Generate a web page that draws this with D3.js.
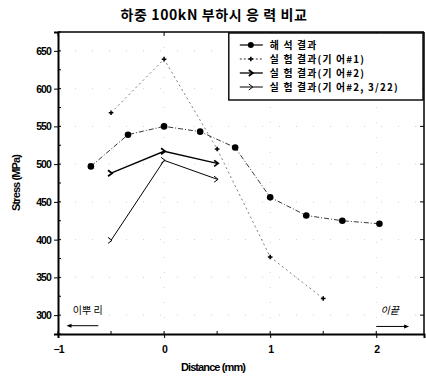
<!DOCTYPE html>
<html>
<head>
<meta charset="utf-8">
<script src="https://cdn.jsdelivr.net/npm/d3@7"></script>
<style>
  body { margin: 0; background: #fff; }
  svg { font-family: "Liberation Sans", "Noto Sans CJK KR", sans-serif; }
</style>
</head>
<body>
<svg id="chart" width="426" height="380"></svg>
<script>
// chart data
const analysisX = [-0.69, -0.34, 0, 0.34, 0.67, 1.0, 1.34, 1.68, 2.03];
const analysisY = [497, 539, 550, 543, 522, 456, 432, 425, 421];
const gear1X = [-0.5, 0, 0.5, 1.0, 1.5];
const gear1Y = [568, 639, 520, 377, 322];
const gear2X = [-0.5, 0, 0.5];
const gear2Y = [488, 517, 501];
const gear2bX = [-0.5, 0, 0.5];
const gear2bY = [399, 505, 480];
const seriesNames = ["해 석 결과", "실 험 결과(기 어#1)", "실 험 결과(기 어#2)", "실 험 결과(기 어#2, 3/22)"];
const xTicks = [-1, 0, 1, 2];
const yTicks = [300, 350, 400, 450, 500, 550, 600, 650];

const margin = { left: 58, right: 2, top: 32, bottom: 46 };
const width = 426, height = 380;
const chartW = width - margin.left - margin.right;
const chartH = height - margin.top - margin.bottom;

const xScale = d3.scaleLinear().domain([-1, 2.45]).range([0, chartW]);
const yScale = d3.scaleLinear().domain([275, 675]).range([chartH, 0]);

const svg = d3.select("#chart");
const g = svg.append("g").attr("transform", `translate(${margin.left}, ${margin.top})`);

// faint dotted grid
g.append("g").selectAll("line").data(xTicks.slice(1))
  .enter().append("line")
  .attr("x1", d => xScale(d)).attr("x2", d => xScale(d))
  .attr("y1", 0).attr("y2", chartH)
  .style("stroke", "#bbb").style("stroke-width", 0.7).style("stroke-dasharray", "1 14");
g.append("g").selectAll("line").data(yTicks)
  .enter().append("line")
  .attr("x1", 0).attr("x2", chartW)
  .attr("y1", d => yScale(d)).attr("y2", d => yScale(d))
  .style("stroke", "#bbb").style("stroke-width", 0.7).style("stroke-dasharray", "1 16");

// axes
const minorY = d3.range(275, 676, 25);
const minorX = d3.range(-1, 2.5, 0.5);

const xAxis = g.append("g").attr("transform", `translate(0, ${chartH})`)
  .call(d3.axisBottom(xScale).tickValues(xTicks).tickFormat(d3.format("d")).tickSize(4));
const yAxis = g.append("g")
  .call(d3.axisLeft(yScale).tickValues(yTicks).tickSize(4));

[xAxis, yAxis].forEach(a => {
  a.select(".domain").style("stroke-width", 2);
  a.selectAll("text").style("font-size", "10.5px").style("font-weight", "bold").style("letter-spacing", "-0.9px");
});
xAxis.selectAll("text").attr("dy", "1.1em");

// minor ticks
g.append("g").selectAll("line").data(minorY).enter().append("line")
  .attr("x1", 0).attr("x2", 3).attr("y1", d => yScale(d)).attr("y2", d => yScale(d))
  .style("stroke", "#000");
g.append("g").selectAll("line").data(minorX).enter().append("line")
  .attr("x1", d => xScale(d)).attr("x2", d => xScale(d)).attr("y1", chartH).attr("y2", chartH - 3)
  .style("stroke", "#000");

// top and right frame with inward ticks
g.append("line").attr("x1", 0).attr("x2", chartW).attr("y1", 0).attr("y2", 0)
  .style("stroke", "#000").style("stroke-width", 1.5);
g.append("line").attr("x1", chartW).attr("x2", chartW).attr("y1", 0).attr("y2", chartH)
  .style("stroke", "#000").style("stroke-width", 1.5);
g.append("g").selectAll("line").data(yTicks).enter().append("line")
  .attr("x1", chartW).attr("x2", chartW - 4).attr("y1", d => yScale(d)).attr("y2", d => yScale(d))
  .style("stroke", "#000");
g.append("g").selectAll("line").data(xTicks).enter().append("line")
  .attr("x1", d => xScale(d)).attr("x2", d => xScale(d)).attr("y1", 0).attr("y2", 4)
  .style("stroke", "#000");

const line = d3.line().x(d => xScale(d[0])).y(d => yScale(d[1]));
const zip = (xs, ys) => xs.map((x, i) => [x, ys[i]]);

// analysis series: dash-dot with filled dots
const s1 = zip(analysisX, analysisY);
g.append("path").attr("d", line(s1))
  .style("fill", "none").style("stroke", "#222").style("stroke-width", 0.9)
  .style("stroke-dasharray", "5 2 1 2");
g.selectAll(".dot").data(s1).enter().append("circle")
  .attr("cx", d => xScale(d[0])).attr("cy", d => yScale(d[1])).attr("r", 3.3)
  .style("fill", "#000");

// gear #1: thin dotted with plus markers
const s2 = zip(gear1X, gear1Y);
g.append("path").attr("d", line(s2))
  .style("fill", "none").style("stroke", "#444").style("stroke-width", 0.7)
  .style("stroke-dasharray", "2 3");
g.selectAll(".plus").data(s2).enter().append("path")
  .attr("transform", d => `translate(${xScale(d[0])}, ${yScale(d[1])})`)
  .attr("d", d3.symbol().type(d3.symbolCross).size(12))
  .style("fill", "#000");

// gear #2: solid with bold arrow markers
const s3 = zip(gear2X, gear2Y);
g.append("path").attr("d", line(s3))
  .style("fill", "none").style("stroke", "#000").style("stroke-width", 1.3);
g.selectAll(".arr").data(s3).enter().append("path")
  .attr("transform", d => `translate(${xScale(d[0])}, ${yScale(d[1])})`)
  .attr("d", "M-3,-3 L1,0 L-3,3")
  .style("fill", "none").style("stroke", "#000").style("stroke-width", 1.8);

// gear #2 3/22: thin solid with open > markers
const s4 = zip(gear2bX, gear2bY);
g.append("path").attr("d", line(s4))
  .style("fill", "none").style("stroke", "#000").style("stroke-width", 1);
g.selectAll(".arr2").data(s4).enter().append("path")
  .attr("transform", d => `translate(${xScale(d[0])}, ${yScale(d[1])})`)
  .attr("d", "M-3,-3 L1,0 L-3,3")
  .style("fill", "none").style("stroke", "#000").style("stroke-width", 1);

// legend
const lg = g.append("g").attr("transform", `translate(${xScale(0.61)}, 1)`);
lg.append("rect").attr("width", chartW - xScale(0.61) - 1).attr("height", 67)
  .style("fill", "#fff").style("stroke", "#000").style("stroke-width", 1.4);
const entryY = [12, 26, 40, 54];
const styles = [
  { dash: null, w: 1.2 },
  { dash: "2 2", w: 0.8 },
  { dash: null, w: 1.3 },
  { dash: null, w: 1.0 }
];
seriesNames.forEach((name, i) => {
  const y = entryY[i];
  lg.append("line").attr("x1", 11).attr("x2", 34).attr("y1", y).attr("y2", y)
    .style("stroke", "#000").style("stroke-width", styles[i].w)
    .style("stroke-dasharray", styles[i].dash);
  if (i === 0) lg.append("circle").attr("cx", 22).attr("cy", y).attr("r", 3).style("fill", "#000");
  if (i === 1) lg.append("path").attr("transform", `translate(22, ${y})`)
    .attr("d", d3.symbol().type(d3.symbolCross).size(12)).style("fill", "#000");
  if (i >= 2) lg.append("path").attr("transform", `translate(23, ${y})`)
    .attr("d", "M-3,-3 L1,0 L-3,3").style("fill", "none").style("stroke", "#000")
    .style("stroke-width", i === 2 ? 1.8 : 1);
  lg.append("text").attr("x", 41).attr("y", y + 3.5).text(name)
    .style("font-family", "'Noto Sans CJK KR', sans-serif")
    .style("font-size", "9.8px").style("font-weight", "bold").style("letter-spacing", "1.2px");
});

// annotations
const ann = g.append("g");
ann.append("text").attr("x", xScale(-0.86)).attr("y", yScale(302)).text("이뿌 리")
  .style("font-family", "'Noto Sans CJK KR', sans-serif").style("font-size", "10px");
ann.append("line").attr("x1", xScale(-0.9)).attr("x2", xScale(-0.62)).attr("y1", yScale(286)).attr("y2", yScale(286))
  .style("stroke", "#000").style("stroke-width", 1);
ann.append("path").attr("transform", `translate(${xScale(-0.92)}, ${yScale(286)})`)
  .attr("d", "M0,0 L5,-2 L5,2 Z").style("fill", "#000");
ann.append("text").attr("x", xScale(2.04)).attr("y", yScale(302)).text("이끝")
  .style("font-family", "'Noto Sans CJK KR', sans-serif").style("font-size", "10px").style("font-style", "italic");
ann.append("line").attr("x1", xScale(2.0)).attr("x2", xScale(2.29)).attr("y1", yScale(285)).attr("y2", yScale(285))
  .style("stroke", "#000").style("stroke-width", 1);
ann.append("path").attr("transform", `translate(${xScale(2.31)}, ${yScale(285)})`)
  .attr("d", "M0,0 L-5,-2 L-5,2 Z").style("fill", "#000");

// titles
svg.append("text").attr("x", 214).attr("y", 20).attr("text-anchor", "middle")
  .text("하중  100kN 부하시 응 력 비교")
  .style("font-family", "'Noto Sans CJK KR', sans-serif").style("font-size", "14px")
  .style("font-weight", "bold").style("letter-spacing", "0.6px");
svg.append("text").attr("x", 213).attr("y", 371).attr("text-anchor", "middle")
  .text("Distance (mm)").style("font-size", "11px").style("font-weight", "bold").style("letter-spacing", "-0.9px");
svg.append("text").attr("transform", `translate(20, 183) rotate(-90)`).attr("text-anchor", "middle")
  .text("Stress (MPa)").style("font-size", "11px").style("font-weight", "bold").style("letter-spacing", "-0.9px");
</script>
</body>
</html>
